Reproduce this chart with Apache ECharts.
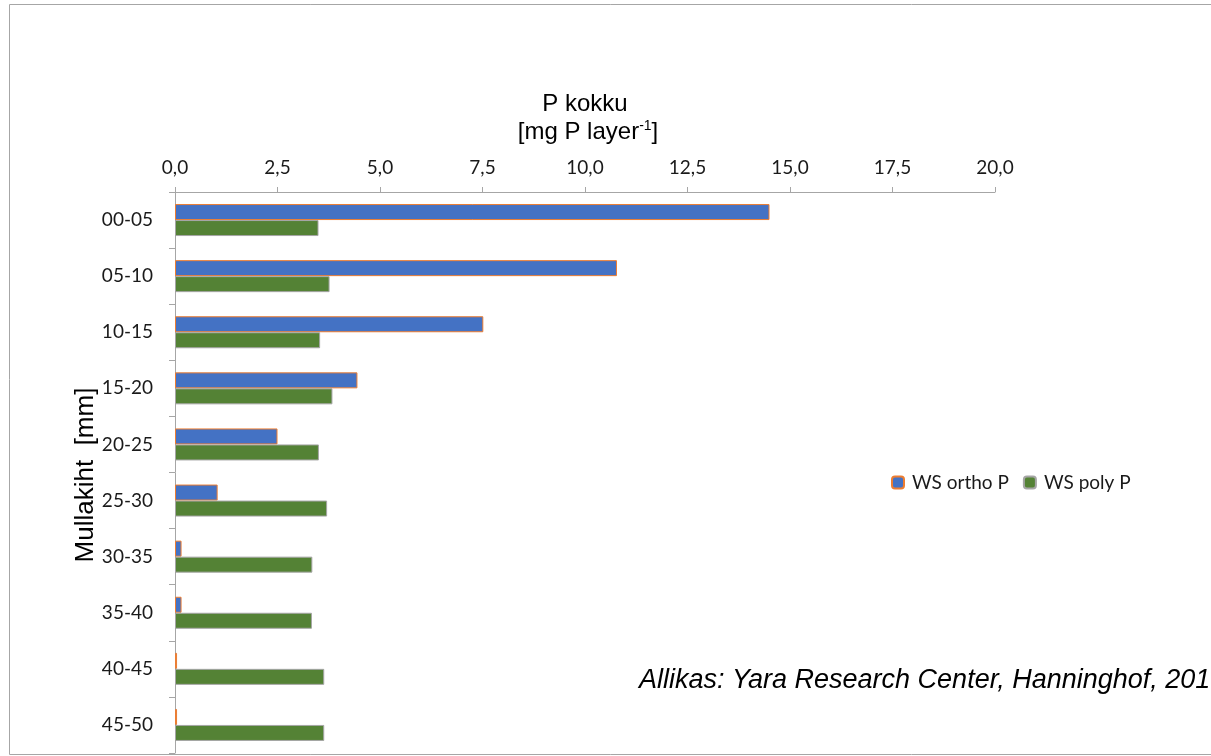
<!DOCTYPE html>
<html>
<head>
<meta charset="utf-8">
<script src="https://cdn.jsdelivr.net/npm/echarts@6/dist/echarts.min.js"></script>
<style>
html,body{margin:0;padding:0;background:#fff;}
#chart{width:1211px;height:756px;}
</style>
</head>
<body>
<div id="chart"></div>
<script>
const categories = ['00-05','05-10','10-15','15-20','20-25','25-30','30-35','35-40','40-45','45-50'];
const orthoP = [14.5, 10.78, 7.52, 4.45, 2.5, 1.04, 0.16, 0.16, 0.05, 0.05];
const polyP  = [3.5, 3.77, 3.54, 3.84, 3.51, 3.71, 3.35, 3.34, 3.64, 3.64];
const xTicks = { min: 0, max: 20, interval: 2.5 };
const seriesNames = ['WS ortho P', 'WS poly P'];

const chart = echarts.init(document.getElementById('chart'));
const labelFont = 'Lato, "Noto Sans", sans-serif';
const arial = '"Liberation Sans", Arial, sans-serif';
const option = {
  animation: false,
  backgroundColor: '#fff',
  grid: { left: 175, right: 216, top: 192, bottom: 3, containLabel: false },
  legend: {
    left: 886, top: 468,
    itemWidth: 12, itemHeight: 12, itemGap: 14,
    textStyle: { fontFamily: labelFont, fontSize: 19, color: '#1a1a1a', padding: [0, 0, 0, 3] },
    data: seriesNames
  },
  xAxis: {
    type: 'value', position: 'top',
    min: xTicks.min, max: xTicks.max, interval: xTicks.interval,
    axisLine: { show: true, lineStyle: { color: '#A6A6A6', width: 1 } },
    axisTick: { show: true, inside: false, length: 5, lineStyle: { color: '#A6A6A6' } },
    splitLine: { show: false },
    axisLabel: {
      margin: 15, fontFamily: labelFont, fontSize: 19, color: '#1a1a1a',
      formatter: v => v.toFixed(1).replace('.', ',')
    }
  },
  yAxis: {
    type: 'category', inverse: true, data: categories,
    axisLine: { show: true, lineStyle: { color: '#A6A6A6', width: 1 } },
    axisTick: { show: true, alignWithLabel: false, length: 6, lineStyle: { color: '#A6A6A6' } },
    axisLabel: { margin: 22, fontFamily: labelFont, fontSize: 19, color: '#1a1a1a' }
  },
  series: [
    {
      name: seriesNames[0], type: 'bar', data: orthoP, barWidth: 16, barGap: '0%',
      itemStyle: { color: '#4472C4', borderColor: '#ED7D31', borderWidth: 1 }
    },
    {
      name: seriesNames[1], type: 'bar', data: polyP, barWidth: 16, barGap: '0%',
      itemStyle: { color: '#548235', borderColor: '#A5A5A5', borderWidth: 1 }
    }
  ],
  graphic: [
    {
      type: 'rect', silent: true,
      shape: { x: 9.5, y: 4.5, width: 1300, height: 750 },
      style: { fill: 'none', stroke: '#A6A6A6', lineWidth: 1 }
    },
    {
      type: 'text', x: 585, y: 104,
      style: {
        text: 'P kokku', textAlign: 'center', textVerticalAlign: 'middle',
        font: '24px ' + arial, fill: '#000'
      }
    },
    {
      type: 'text', x: 588, y: 132,
      style: {
        text: '{a|[mg P layer}{s|-1}{a|]}', textAlign: 'center', textVerticalAlign: 'middle',
        rich: {
          a: { fontFamily: arial, fontSize: 24, fill: '#000', color: '#000' },
          s: { fontFamily: arial, fontSize: 14, fill: '#000', color: '#000', verticalAlign: 'top', padding: [0, 0, 12, 0] }
        }
      }
    },
    {
      type: 'text', x: 86, y: 475, rotation: Math.PI / 2,
      style: {
        text: 'Mullakiht  [mm]', textAlign: 'center', textVerticalAlign: 'middle',
        font: '26px ' + arial, fill: '#000'
      }
    },
    {
      type: 'text', x: 639, y: 680,
      style: {
        text: 'Allikas: Yara Research Center, Hanninghof, 2010', textAlign: 'left', textVerticalAlign: 'middle',
        font: 'italic 27px ' + arial, fill: '#000'
      }
    }
  ]
};
chart.setOption(option);
</script>
</body>
</html>
